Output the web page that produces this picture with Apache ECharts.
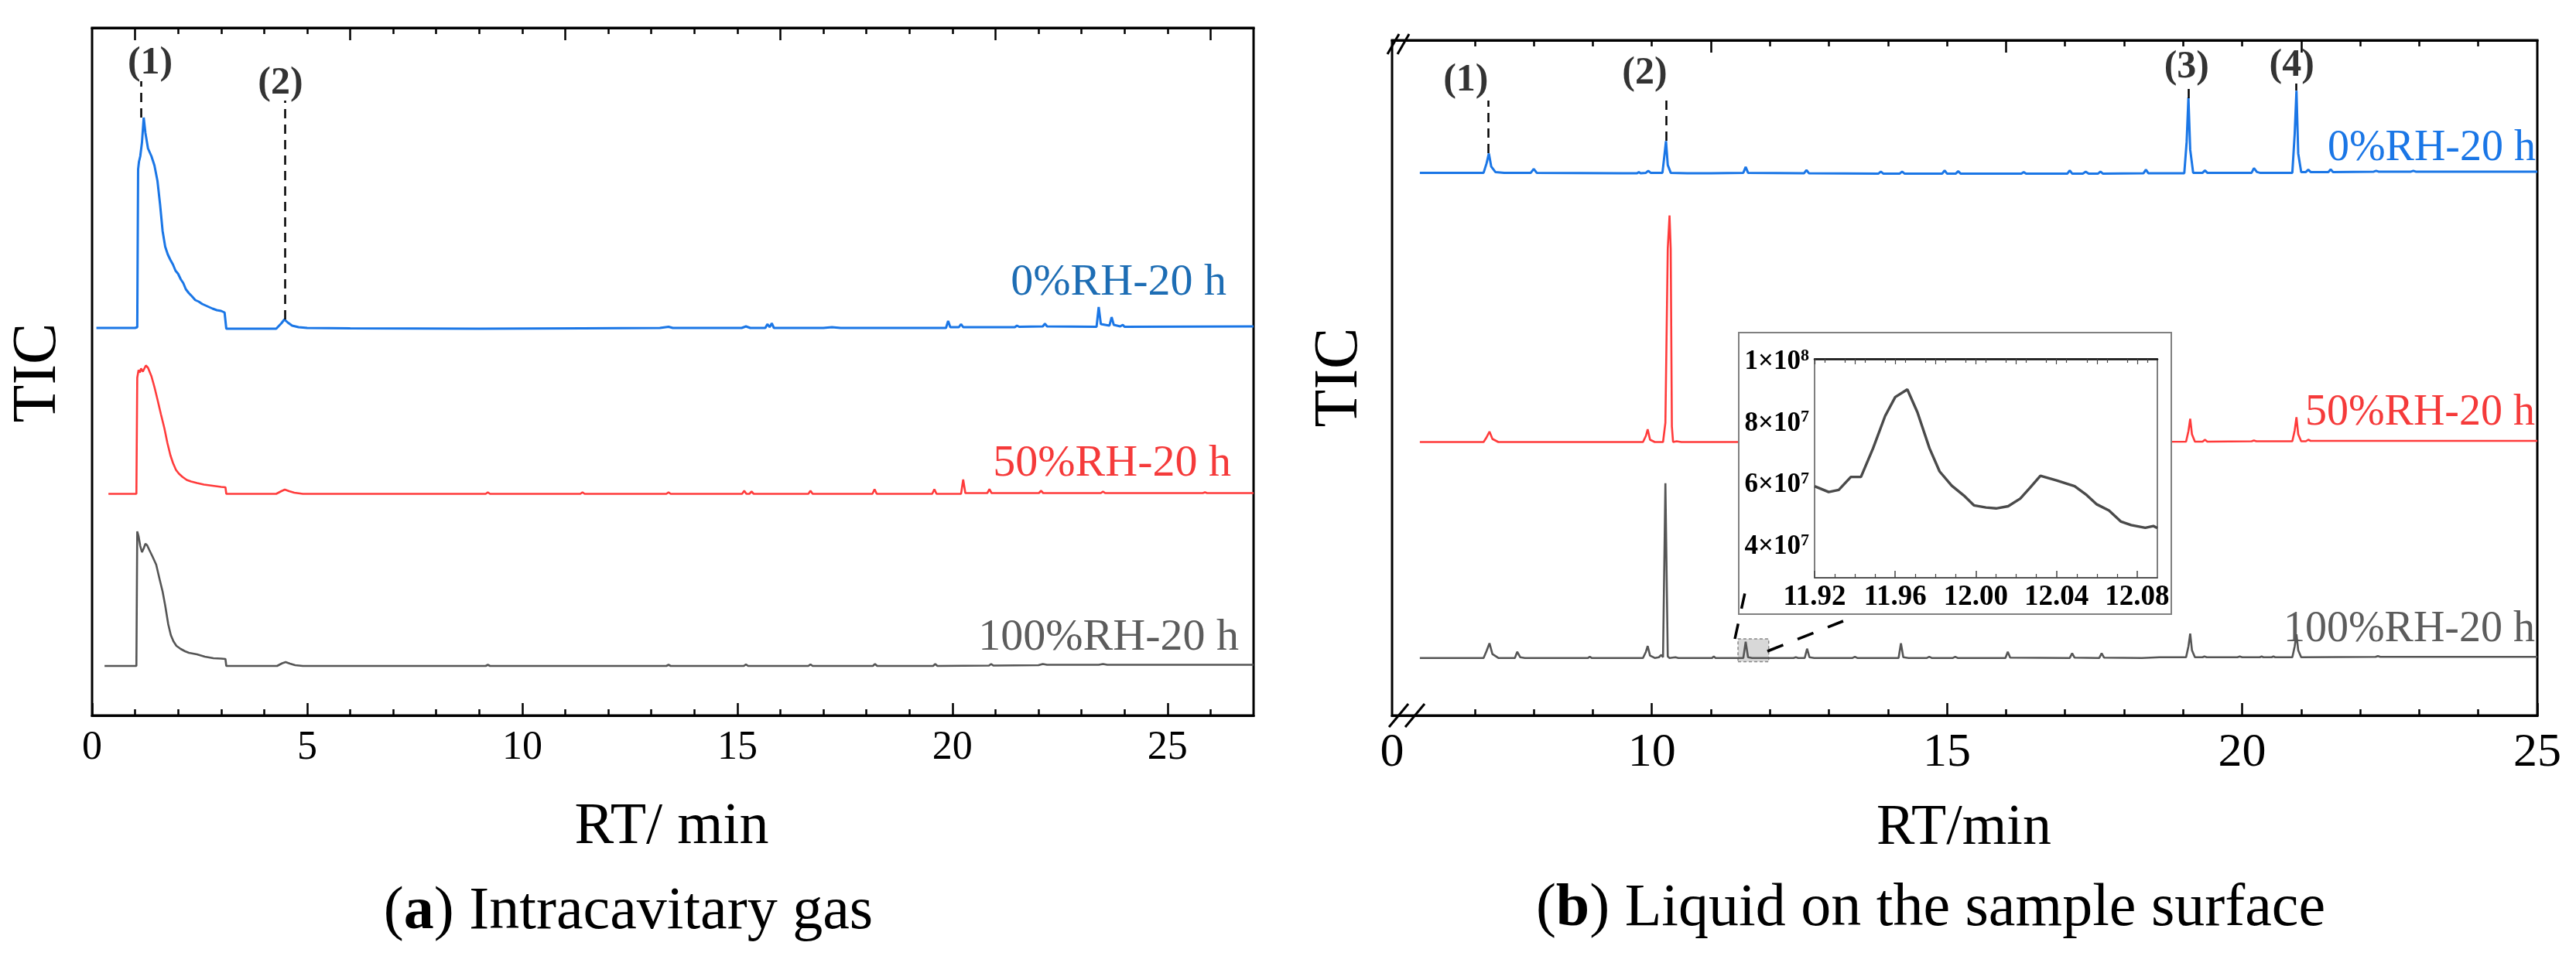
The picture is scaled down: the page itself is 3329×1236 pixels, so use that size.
<!DOCTYPE html>
<html>
<head>
<meta charset="utf-8">
<script src="https://cdn.jsdelivr.net/npm/echarts@6/dist/echarts.min.js"></script>
<style>
  html, body { margin: 0; padding: 0; background: #fff; }
  #chart { width: 3329px; height: 1236px; }
</style>
</head>
<body>
<div id="chart"></div>
<script>
// ---------- data (RT in min, TIC in arbitrary units above each trace's baseline) ----------
const sampleNames = ['0%RH-20 h', '50%RH-20 h', '100%RH-20 h'];

// (a) intracavitary gas
const gasBlue = [[0.1,0],[1.0,0],[1.05,1],[1.07,205],[1.09,215],[1.12,222],[1.16,240],[1.2,272],[1.24,252],[1.3,232],[1.38,222],[1.45,210],[1.52,190],[1.58,160],[1.64,125],[1.7,105],[1.76,95],[1.82,88],[1.88,82],[1.94,74],[2.0,70],[2.06,63],[2.12,58],[2.18,50],[2.25,45],[2.32,41],[2.4,36],[2.48,34],[2.56,31],[2.64,29],[2.72,27],[2.8,25],[2.9,23],[3.0,22],[3.08,20],[3.1,19],[3.12,-1],[4.28,-1],[4.4,6],[4.47,11],[4.55,7],[4.65,3],[4.8,1],[5.0,0],[6.0,-0.5],[9.0,-1],[11.4,-0.5],[13.2,0],[13.4,1.5],[13.5,0],[15.1,0],[15.2,2],[15.3,0],[15.65,0],[15.7,5],[15.75,1],[15.8,6],[15.85,0],[17.0,0],[17.2,1],[17.4,0],[19.85,0],[19.9,9],[19.95,1],[20.15,1],[20.2,5],[20.25,1],[21.45,1],[21.5,3],[21.55,1.5],[22.1,2],[22.15,5.5],[22.2,2],[23.35,1.5],[23.4,27],[23.45,5],[23.55,4],[23.65,3],[23.7,14],[23.75,4],[23.9,2],[23.96,4],[24.0,1.5],[27,2]];
const gasRed = [[0.38,0],[1.03,0],[1.05,150],[1.08,160],[1.11,157],[1.14,162],[1.18,158],[1.25,166],[1.3,163],[1.38,152],[1.45,138],[1.52,122],[1.6,103],[1.68,85],[1.75,66],[1.82,50],[1.88,40],[1.95,31],[2.02,26],[2.1,22],[2.2,18],[2.3,16],[2.44,14],[2.6,12],[2.8,10.5],[3.0,9],[3.1,8.5],[3.12,0],[4.28,0],[4.4,3.5],[4.48,5.5],[4.58,3.5],[4.7,1.5],[4.9,0],[9.15,0],[9.2,2],[9.25,0],[11.35,0],[11.4,2],[11.45,0],[13.35,0],[13.4,2],[13.45,0],[15.11,0],[15.16,4],[15.21,0],[15.28,0],[15.33,3],[15.38,0],[16.65,0],[16.7,4],[16.75,0],[18.14,0],[18.19,6],[18.24,0],[19.53,0],[19.58,6],[19.63,0],[20.2,0],[20.25,18.5],[20.3,1],[20.81,1],[20.86,6],[20.91,1],[22.01,1],[22.06,4],[22.11,1],[23.45,1],[23.5,3],[23.55,1],[25.82,1],[25.87,2],[25.92,1],[27,1]];
const gasGray = [[0.29,0],[1.03,0],[1.05,174],[1.08,168],[1.12,155],[1.16,147],[1.2,152],[1.24,158],[1.28,156],[1.33,150],[1.4,142],[1.49,131],[1.57,112],[1.64,96],[1.7,78],[1.77,54],[1.83,40],[1.89,32],[1.96,26],[2.06,22],[2.16,19],[2.25,17],[2.44,15],[2.62,12],[2.82,10],[3.0,9.5],[3.1,9],[3.12,0],[4.3,0],[4.42,3.5],[4.5,5],[4.6,3],[4.72,1],[4.9,0],[9.15,0],[9.2,1.5],[9.25,0],[13.35,0],[13.4,1.5],[13.45,0],[15.15,0],[15.2,2],[15.25,0],[16.65,0],[16.7,2],[16.75,0],[18.15,0],[18.2,2.5],[18.25,0],[19.55,0],[19.6,2.5],[19.65,0],[20.85,0.5],[20.9,2.5],[20.95,0.5],[22.0,1],[22.1,2.5],[22.2,1.5],[23.4,1.5],[23.5,2.5],[23.6,1.5],[27,1.5]];

// (b) liquid on the sample surface
const liqBlue = [[6.07,0],[6.5,0],[7.15,0],[7.2,12],[7.24,25],[7.28,8],[7.35,1],[7.5,0],[7.95,0],[8.0,5],[8.05,0],[9.5,-0.5],[9.75,-0.5],[9.78,1],[9.81,-0.5],[9.9,0],[9.94,2.5],[9.98,0],[10.18,0],[10.21,20],[10.24,41],[10.27,10],[10.32,0],[10.6,-0.5],[11.0,-0.5],[11.55,0],[11.59,7.5],[11.63,0],[12.58,-0.5],[12.62,3.5],[12.66,-0.5],[13.84,-1],[13.88,1.5],[13.92,-1],[14.2,-1],[14.24,1.5],[14.28,-1],[14.92,-1],[14.96,3],[15.0,-1],[15.15,-1],[15.19,2],[15.23,-1],[16.26,-1],[16.3,1],[16.34,-1],[17.04,-1],[17.08,3],[17.12,-1],[17.3,-1],[17.35,1.5],[17.4,-1],[17.56,-1],[17.6,1.5],[17.64,-1],[18.33,-0.5],[18.37,4],[18.41,-0.5],[19.02,-0.5],[19.06,40],[19.09,97],[19.12,30],[19.17,0],[19.33,0],[19.37,3],[19.41,0],[20.16,0],[20.2,6],[20.25,1],[20.3,0],[20.85,0],[20.89,50],[20.92,106],[20.95,25],[21.0,1],[21.08,1],[21.12,4],[21.16,1],[21.46,1],[21.5,4.5],[21.54,1],[22.23,1.5],[22.27,2.5],[22.31,1.5],[22.86,1.5],[22.9,2.5],[22.94,1.5],[25,1.5]];
const liqRed = [[6.07,0],[7.15,0],[7.2,6],[7.25,13.5],[7.3,4],[7.4,0],[9.85,0],[9.9,8],[9.93,16.5],[9.97,3],[10.05,0],[10.19,0],[10.23,25],[10.27,250],[10.3,293],[10.32,250],[10.34,20],[10.36,0],[10.42,1],[10.5,0],[11.0,0],[19.05,0.5],[19.09,14],[19.12,30],[19.15,10],[19.2,0.5],[19.33,0.5],[19.37,3],[19.41,0.5],[20.16,1],[20.2,2],[20.24,1],[20.85,1],[20.89,15],[20.92,32],[20.95,10],[21.0,1],[21.08,1],[21.12,3],[21.16,1.5],[25,1.5]];
const liqGray = [[6.07,0],[7.15,0],[7.2,9],[7.25,19],[7.3,5],[7.4,0],[7.68,0],[7.72,8],[7.77,1],[7.85,0],[8.92,0],[8.95,1.5],[8.98,0],[9.85,0],[9.9,8],[9.93,15.5],[9.97,3],[10.05,0],[10.12,1],[10.16,4],[10.19,1],[10.2,1],[10.23,226],[10.27,2],[10.3,0],[10.4,1],[10.45,0],[11.02,0],[11.05,2],[11.08,0],[11.55,0],[11.59,21],[11.63,1],[11.7,0],[12.4,0],[12.44,1],[12.48,0],[12.59,0],[12.63,12],[12.67,1],[12.75,0],[13.4,0],[13.44,1.5],[13.48,0],[14.18,0],[14.22,19],[14.26,1],[14.35,0],[14.66,0],[14.7,1.5],[14.74,0],[15.1,0],[15.14,1.5],[15.18,0],[15.99,0],[16.03,8],[16.07,0.5],[17.08,0],[17.12,6],[17.16,0.5],[17.58,0],[17.62,6],[17.66,0.5],[18.3,0],[18.6,1],[19.05,1],[19.09,15],[19.12,31.5],[19.15,10],[19.2,1],[19.33,1],[19.36,2],[19.4,1],[19.92,1],[19.96,2],[20.0,1],[20.3,1],[20.33,2],[20.36,1],[20.5,1],[20.53,2],[20.56,1],[20.85,1],[20.89,15],[20.92,30.5],[20.95,10],[21.0,1],[22.26,1.5],[22.3,2.5],[22.34,1.5],[25,1.5]];

// inset: zoom of the 100%RH trace
const insetRT  = [11.92, 11.927, 11.932, 11.938, 11.943, 11.949, 11.955, 11.960, 11.966, 11.971, 11.977, 11.982, 11.988, 11.994, 11.999, 12.005, 12.010, 12.016, 12.022, 12.027, 12.032, 12.040, 12.049, 12.055, 12.060, 12.066, 12.072, 12.077, 12.084, 12.088, 12.09];
const insetTIC = [5.97e7, 5.78e7, 5.85e7, 6.27e7, 6.27e7, 7.2e7, 8.25e7, 8.86e7, 9.11e7, 8.37e7, 7.2e7, 6.45e7, 5.99e7, 5.67e7, 5.35e7, 5.28e7, 5.25e7, 5.32e7, 5.57e7, 5.93e7, 6.31e7, 6.16e7, 5.97e7, 5.68e7, 5.38e7, 5.18e7, 4.82e7, 4.71e7, 4.62e7, 4.68e7, 4.61e7];

// ticks and tick labels
const gasLabels = [0, 5, 10, 15, 20, 25];
const gasBottomMinor = [1,2,3,4,6,7,8,9,11,12,13,14,16,17,18,19,21,22,23,24,26];
const gasTopMajor = [1, 6, 11, 16, 21, 26];
const gasTopMinor = [2,3,4,5,7,8,9,10,12,13,14,15,17,18,19,20,22,23,24,25];
const liqStart = 5.6;                       // broken axis: shown as 0
const liqLabels = [5.6, 10, 15, 20, 25];
const liqBottomMajor = [10, 15, 20, 25];
const liqBottomMinor = [7,8,9,11,12,13,14,16,17,18,19,21,22,23,24];
const liqTopMajor = [11, 16, 21];
const liqTopMinor = [7,8,9,10,12,13,14,15,17,18,19,20,22,23,24];
const insetXLabels = [11.92, 11.96, 12.00, 12.04, 12.08];
const insetBottomMinor = [11.93,11.94,11.95,11.97,11.98,11.99,12.01,12.02,12.03,12.05,12.06,12.07];
const insetTopMajor = [11.92,11.94,11.96,11.98,12.00,12.02,12.04,12.06,12.08];
const insetTopMinor = [11.925,11.935,11.945,11.955,11.965,11.975,11.985,11.995,12.005,12.015,12.025,12.035,12.045,12.055,12.065,12.075,12.085];
const insetYLabels = [4e7, 6e7, 8e7, 1e8];

// peak markers: guide RT, guide extent, label anchor
const gasPeaks = [
  { id: '(1)', rt: 1.14, from: 773, to: 820, lx: 1.35, ly: 843 },
  { id: '(2)', rt: 4.49, from: 512, to: 795, lx: 4.38, ly: 817 }
];
const liqPeaks = [
  { id: '(1)', rt: 7.23, from: 727, to: 795, lx: 6.85, ly: 821 },
  { id: '(2)', rt: 10.24, from: 743, to: 800, lx: 9.88, ly: 830 },
  { id: '(3)', rt: 19.09, from: 798, to: 815, lx: 19.06, ly: 838 },
  { id: '(4)', rt: 20.92, from: 808, to: 817, lx: 20.84, ly: 840 }
];
const zoomBox = { rtFrom: 11.46, rtTo: 11.98 };

// ---------- layout / style ----------
const FONT = '"Liberation Serif", "Times New Roman", serif';
const colors = ['#1a76e6', '#ff3b3b', '#555555'];
const labelColors = ['#1d6db4', '#f53a3a', '#5c5c5c'];
const gasOffsets = [501, 286.5, 64];
const liqOffsets = [701.6, 353.5, 74.3];

const chart = echarts.init(document.getElementById('chart'));

function shift(points, off) { return points.map(p => [p[0], p[1] + off]); }

function tickAxis(grid, pos, min, max, ticks, len, extra) {
  return Object.assign({
    type: 'value', gridIndex: grid, position: pos, min: min, max: max,
    axisLine: { show: true, lineStyle: { color: '#000', width: 3 } },
    axisTick: { show: true, inside: true, length: len, customValues: ticks, lineStyle: { color: '#000', width: 2.5 } },
    axisLabel: { show: false },
    splitLine: { show: false }
  }, extra || {});
}

function traceSeries(data, off, idx, xi, yi, extra) {
  return Object.assign({
    type: 'line', xAxisIndex: xi, yAxisIndex: yi,
    data: shift(data, off), showSymbol: false, symbol: 'none',
    lineStyle: { color: colors[idx], width: idx === 0 ? 3 : 2.6 },
    silent: true, animation: false
  }, extra || {});
}

function peakSeries(peaks, xi, yi) {
  return {
    type: 'scatter', xAxisIndex: xi, yAxisIndex: yi, symbolSize: 0, silent: true, animation: false,
    data: peaks.map(p => [p.lx, p.ly, p.id]),
    label: { show: true, position: 'inside', formatter: p => p.data[2], color: '#000',
             fontFamily: FONT, fontWeight: 'bold', fontSize: 50 },
    markLine: {
      silent: true, symbol: ['none', 'none'], animation: false,
      label: { show: false },
      lineStyle: { color: '#000', width: 2.5, type: [12, 8] },
      data: peaks.map(p => [{ coord: [p.rt, p.from] }, { coord: [p.rt, p.to] }])
    }
  };
}

const option = {
  backgroundColor: '#fff',
  animation: false,
  grid: [
    { left: 119, top: 36, width: 1501, height: 889, show: true, borderColor: '#000', borderWidth: 3 },
    { left: 1799, top: 52, width: 1480, height: 873, show: true, borderColor: '#000', borderWidth: 3 },
    { left: 2345, top: 464, width: 443, height: 283, show: true, borderColor: '#555', borderWidth: 1.5, z: 20 }
  ],
  xAxis: [
    // (a)
    tickAxis(0, 'bottom', 0, 27, gasLabels, 16, {
      axisLabel: { show: true, customValues: gasLabels, margin: 16, color: '#000', fontFamily: FONT, fontSize: 52 }
    }),
    tickAxis(0, 'bottom', 0, 27, gasBottomMinor, 8),
    tickAxis(0, 'top', 0, 27, gasTopMajor, 16),
    tickAxis(0, 'top', 0, 27, gasTopMinor, 8),
    // (b)
    tickAxis(1, 'bottom', liqStart, 25, liqBottomMajor, 16, {
      axisLabel: { show: true, customValues: liqLabels, margin: 18, color: '#000', fontFamily: FONT, fontSize: 62,
                   formatter: v => (v < 6 ? '0' : String(v)) }
    }),
    tickAxis(1, 'bottom', liqStart, 25, liqBottomMinor, 8),
    tickAxis(1, 'top', liqStart, 25, liqTopMajor, 16),
    tickAxis(1, 'top', liqStart, 25, liqTopMinor, 8),
    // inset
    tickAxis(2, 'bottom', 11.92, 12.09, insetXLabels, 8, {
      z: 20,
      axisLine: { show: true, lineStyle: { color: '#444', width: 1.5 } },
      axisTick: { show: true, inside: true, length: 9, customValues: insetXLabels, lineStyle: { color: '#444', width: 1.5 } },
      axisLabel: { show: true, customValues: insetXLabels, margin: 7, color: '#000', fontFamily: FONT,
                   fontWeight: 'bold', fontSize: 37, formatter: v => v.toFixed(2) }
    }),
    tickAxis(2, 'bottom', 11.92, 12.09, insetBottomMinor, 5, {
      z: 20,
      axisLine: { show: false },
      axisTick: { show: true, inside: true, length: 5, customValues: insetBottomMinor, lineStyle: { color: '#444', width: 1.2 } }
    }),
    tickAxis(2, 'top', 11.92, 12.09, insetTopMajor, 7, {
      z: 20,
      axisLine: { show: true, lineStyle: { color: '#111', width: 2.5 } },
      axisTick: { show: true, inside: true, length: 7, customValues: insetTopMajor, lineStyle: { color: '#444', width: 1.2 } }
    }),
    tickAxis(2, 'top', 11.92, 12.09, insetTopMinor, 5, {
      z: 20,
      axisLine: { show: false },
      axisTick: { show: true, inside: true, length: 5, customValues: insetTopMinor, lineStyle: { color: '#444', width: 1.2 } }
    })
  ],
  yAxis: [
    { type: 'value', gridIndex: 0, min: 0, max: 889, show: false },
    { type: 'value', gridIndex: 1, min: 0, max: 873, show: false },
    {
      type: 'value', gridIndex: 2, min: 3e7, max: 1.01e8, z: 20,
      axisLine: { show: false }, axisTick: { show: false }, splitLine: { show: false },
      axisLabel: {
        show: true, customValues: insetYLabels, margin: 7, color: '#000',
        formatter: v => {
          const e = Math.floor(Math.log10(v) + 1e-9);
          const m = Math.round(v / Math.pow(10, e));
          return '{m|' + m + '×10}{e|' + e + '}';
        },
        rich: {
          m: { fontFamily: FONT, fontWeight: 'bold', fontSize: 35, color: '#000' },
          e: { fontFamily: FONT, fontWeight: 'bold', fontSize: 22, color: '#000', verticalAlign: 'top', padding: [0, 0, 16, 0] }
        }
      }
    }
  ],
  series: [
    traceSeries(gasBlue, gasOffsets[0], 0, 0, 0),
    traceSeries(gasRed, gasOffsets[1], 1, 0, 0),
    traceSeries(gasGray, gasOffsets[2], 2, 0, 0),
    traceSeries(liqBlue, liqOffsets[0], 0, 4, 1),
    traceSeries(liqRed, liqOffsets[1], 1, 4, 1),
    traceSeries(liqGray, liqOffsets[2], 2, 4, 1, {
      markArea: {
        silent: true,
        itemStyle: { color: 'rgba(200,200,200,0.7)', borderColor: '#888', borderWidth: 1.5, borderType: [4, 3] },
        data: [[{ coord: [zoomBox.rtFrom, 69.5] }, { coord: [zoomBox.rtTo, 99] }]]
      }
    }),
    {
      type: 'line', xAxisIndex: 8, yAxisIndex: 2, z: 21, silent: true, animation: false,
      data: insetRT.map((t, i) => [t, insetTIC[i]]),
      showSymbol: false, symbol: 'none',
      lineStyle: { color: '#4a4a4a', width: 3.4 }
    },
    peakSeries(gasPeaks, 0, 0),
    peakSeries(liqPeaks, 4, 1)
  ],
  graphic: [
    // inset frame (covers the 50%RH trace behind it)
    { type: 'rect', z: 10, shape: { x: 2247, y: 430, width: 559, height: 364 },
      style: { fill: '#fff', stroke: '#808080', lineWidth: 2 } },
    // zoom connectors
    { type: 'line', z: 30, shape: { x1: 2242, y1: 826, x2: 2256, y2: 762 },
      style: { stroke: '#000', lineWidth: 3.5, lineDash: [20, 20] } },
    { type: 'line', z: 30, shape: { x1: 2284, y1: 842, x2: 2382, y2: 803 },
      style: { stroke: '#000', lineWidth: 3.5, lineDash: [22, 20] } },
    // axis break marks
    { type: 'line', z: 30, shape: { x1: 1795, y1: 940, x2: 1820, y2: 910 }, style: { stroke: '#000', lineWidth: 3 } },
    { type: 'line', z: 30, shape: { x1: 1816, y1: 940, x2: 1841, y2: 910 }, style: { stroke: '#000', lineWidth: 3 } },
    { type: 'line', z: 30, shape: { x1: 1793, y1: 70, x2: 1808, y2: 44 }, style: { stroke: '#000', lineWidth: 3 } },
    { type: 'line', z: 30, shape: { x1: 1806, y1: 70, x2: 1821, y2: 44 }, style: { stroke: '#000', lineWidth: 3 } },
    // y titles
    { type: 'text', x: 50, y: 482, rotation: Math.PI / 2,
      style: { text: 'TIC', fontFamily: FONT, fontSize: 80, fill: '#000', textAlign: 'center', textVerticalAlign: 'middle' } },
    { type: 'text', x: 1732, y: 488, rotation: Math.PI / 2,
      style: { text: 'TIC', fontFamily: FONT, fontSize: 80, fill: '#000', textAlign: 'center', textVerticalAlign: 'middle' } },
    // x titles
    { type: 'text', x: 868, y: 1070,
      style: { text: 'RT/ min', fontFamily: FONT, fontSize: 76, fill: '#000', textAlign: 'center', textVerticalAlign: 'middle' } },
    { type: 'text', x: 2538, y: 1072,
      style: { text: 'RT/min', fontFamily: FONT, fontSize: 74, fill: '#000', textAlign: 'center', textVerticalAlign: 'middle' } },
    // captions
    { type: 'text', x: 812, y: 1180,
      style: { text: '({b|a}) Intracavitary gas', fontFamily: FONT, fontSize: 78, fill: '#000',
               textAlign: 'center', textVerticalAlign: 'middle',
               rich: { b: { fontFamily: FONT, fontSize: 78, fontWeight: 'bold', fill: '#000' } } } },
    { type: 'text', x: 2495, y: 1176,
      style: { text: '({b|b}) Liquid on the sample surface', fontFamily: FONT, fontSize: 78, fill: '#000',
               textAlign: 'center', textVerticalAlign: 'middle',
               rich: { b: { fontFamily: FONT, fontSize: 78, fontWeight: 'bold', fill: '#000' } } } },
    // sample labels, panel (a)
    { type: 'text', x: 1585, y: 366, style: { text: sampleNames[0], fontFamily: FONT, fontSize: 58, fill: labelColors[0], textAlign: 'right', textVerticalAlign: 'middle' } },
    { type: 'text', x: 1591, y: 600, style: { text: sampleNames[1], fontFamily: FONT, fontSize: 58, fill: labelColors[1], textAlign: 'right', textVerticalAlign: 'middle' } },
    { type: 'text', x: 1601, y: 825, style: { text: sampleNames[2], fontFamily: FONT, fontSize: 58, fill: labelColors[2], textAlign: 'right', textVerticalAlign: 'middle' } },
    // sample labels, panel (b)
    { type: 'text', x: 3277, y: 192, style: { text: sampleNames[0], fontFamily: FONT, fontSize: 56, fill: colors[0], textAlign: 'right', textVerticalAlign: 'middle' } },
    { type: 'text', x: 3276, y: 534, style: { text: sampleNames[1], fontFamily: FONT, fontSize: 56, fill: labelColors[1], textAlign: 'right', textVerticalAlign: 'middle' } },
    { type: 'text', x: 3276, y: 814, style: { text: sampleNames[2], fontFamily: FONT, fontSize: 56, fill: labelColors[2], textAlign: 'right', textVerticalAlign: 'middle' } }
  ]
};

chart.setOption(option);
</script>
</body>
</html>
